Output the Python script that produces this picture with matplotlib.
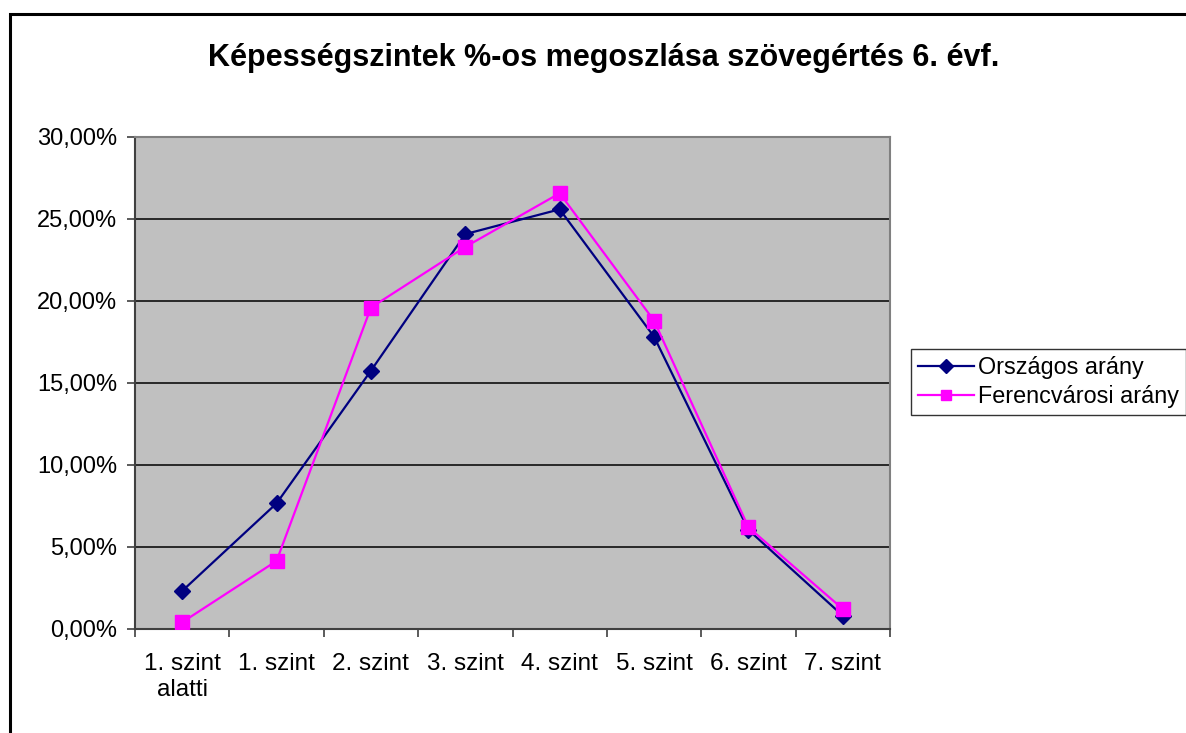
import matplotlib
matplotlib.use("Agg")
import matplotlib.pyplot as plt
from matplotlib.patches import Rectangle
from matplotlib.ticker import FuncFormatter, FixedLocator

categories = ["1. szint\nalatti", "1. szint", "2. szint", "3. szint",
              "4. szint", "5. szint", "6. szint", "7. szint"]
orszagos = [2.32, 7.66, 15.75, 24.08, 25.59, 17.82, 6.04, 0.81]
ferencvarosi = [0.41, 4.15, 19.60, 23.30, 26.57, 18.80, 6.20, 1.22]
series_names = ["Országos arány", "Ferencvárosi arány"]
title = "Képességszintek %-os megoszlása szövegértés 6. évf."
yticks = [0, 5, 10, 15, 20, 25, 30]

plt.rcParams['font.family'] = ['Liberation Sans', 'DejaVu Sans']

W, H = 1186, 733
fig = plt.figure(figsize=(W / 100, H / 100), dpi=100)
fig.patch.set_facecolor('white')

# outer chart border (extends past right/bottom edges)
fig.patches.append(Rectangle((10 / W, -0.1), 1.2, 1 - 14 / H + 0.1,
                             transform=fig.transFigure, fill=False,
                             edgecolor='black', linewidth=2.2, zorder=0))

ax = fig.add_axes([135 / W, 1 - 629 / H, (890 - 135) / W, (629 - 137) / H])
ax.set_facecolor('#C0C0C0')

x = list(range(len(categories)))
ax.plot(x, orszagos, color='#000080', marker='D', markersize=8.5,
        linewidth=1.6, label=series_names[0], zorder=3)
ax.plot(x, ferencvarosi, color='#FF00FF', marker='s', markersize=9.5,
        linewidth=1.6, label=series_names[1], zorder=4)

ax.set_xlim(-0.5, len(categories) - 0.5)
ax.set_ylim(0, 30)
ax.yaxis.set_major_locator(FixedLocator(yticks))
ax.yaxis.set_major_formatter(FuncFormatter(lambda v, p: f"{v:.2f}%".replace('.', ',')))
ax.grid(axis='y', color='black', linewidth=1.1, zorder=1)
ax.set_axisbelow(True)

ax.set_xticks([i - 0.5 for i in range(len(categories) + 1)])
ax.set_xticklabels([])
ax.set_xticks(x, minor=True)
ax.set_xticklabels(categories, minor=True, fontsize=17.5, linespacing=1.25)
ax.tick_params(axis='x', which='minor', length=0, pad=17)
ax.tick_params(axis='x', which='major', length=6, width=1.2, color='#404040', direction='out')
ax.tick_params(axis='y', length=6, width=1.2, color='#404040', direction='out', labelsize=17, pad=7)

for s in ['top', 'right']:
    ax.spines[s].set_color('#808080')
    ax.spines[s].set_linewidth(1.5)
for s in ['left', 'bottom']:
    ax.spines[s].set_color('#404040')
    ax.spines[s].set_linewidth(1.5)

fig.text(604 / W, 1 - 58 / H, title, ha='center', va='center',
         fontsize=22, fontweight='bold')

leg = ax.legend(loc='center left', bbox_to_anchor=(911 / W, 1 - 382 / H),
                bbox_transform=fig.transFigure, frameon=True, fancybox=False,
                fontsize=16.8, handlelength=2.4, handletextpad=0.15,
                borderpad=0.3, labelspacing=0.25, borderaxespad=0)
leg.get_frame().set_edgecolor('black')
leg.get_frame().set_linewidth(1.0)
for h in leg.legend_handles:
    h.set_markersize(7)

fig.savefig('out.png', dpi=100, facecolor='white')
